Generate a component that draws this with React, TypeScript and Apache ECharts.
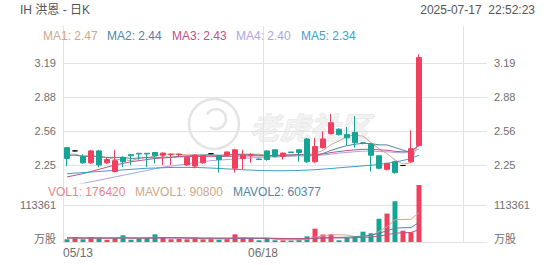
import React, { useEffect, useRef } from 'react';
import * as echarts from 'echarts';

// Trading days shown on the daily chart
const dates = [
  '05/13', '05/14', '05/15', '05/16', '05/19', '05/20', '05/21', '05/22', '05/23', '05/27',
  '05/28', '05/29', '05/30', '06/02', '06/03', '06/04', '06/05', '06/06', '06/09', '06/10',
  '06/11', '06/12', '06/13', '06/16', '06/17', '06/18', '06/20', '06/23', '06/24', '06/25',
  '06/26', '06/27', '06/30', '07/01', '07/02', '07/03', '07/07', '07/08', '07/09', '07/10',
  '07/11', '07/14', '07/15', '07/16', '07/17',
];

// [open, close, low, high]
const ohlc: number[][] = [
  [2.41, 2.31, 2.24, 2.41], [2.38, 2.38, 2.375, 2.385], [2.33, 2.27, 2.26, 2.35], [2.27, 2.38, 2.26, 2.39],
  [2.38, 2.25, 2.23, 2.39], [2.27, 2.30, 2.26, 2.32], [2.19, 2.29, 2.18, 2.39], [2.32, 2.28, 2.23, 2.33],
  [2.345, 2.335, 2.25, 2.35], [2.358, 2.352, 2.30, 2.36], [2.358, 2.352, 2.23, 2.36], [2.365, 2.335, 2.265, 2.37],
  [2.34, 2.36, 2.25, 2.365], [2.345, 2.35, 2.25, 2.355], [2.345, 2.35, 2.33, 2.355], [2.25, 2.32, 2.24, 2.33],
  [2.24, 2.34, 2.22, 2.35], [2.27, 2.335, 2.26, 2.34], [2.355, 2.355, 2.35, 2.36], [2.335, 2.30, 2.18, 2.34],
  [2.34, 2.37, 2.33, 2.375], [2.22, 2.39, 2.18, 2.40], [2.31, 2.34, 2.21, 2.39], [2.34, 2.345, 2.27, 2.36],
  [2.305, 2.30, 2.30, 2.31], [2.38, 2.30, 2.29, 2.385], [2.39, 2.33, 2.32, 2.39], [2.33, 2.36, 2.30, 2.365],
  [2.37, 2.365, 2.36, 2.37], [2.39, 2.365, 2.28, 2.395], [2.49, 2.28, 2.27, 2.50], [2.28, 2.42, 2.27, 2.50],
  [2.41, 2.49, 2.40, 2.56], [2.54, 2.64, 2.53, 2.72], [2.58, 2.53, 2.52, 2.59], [2.53, 2.50, 2.43, 2.60],
  [2.55, 2.455, 2.41, 2.70], [2.455, 2.45, 2.44, 2.46], [2.44, 2.34, 2.19, 2.45], [2.335, 2.22, 2.21, 2.34],
  [2.21, 2.265, 2.20, 2.27], [2.28, 2.18, 2.17, 2.29], [2.245, 2.245, 2.24, 2.25], [2.28, 2.40, 2.27, 2.57],
  [2.43, 3.24, 2.42, 3.27],
];

const volumes = [
  8400, 15500, 8400, 15500, 13300, 7100, 13300, 20700, 7100, 10200,
  12400, 23800, 15500, 8400, 9300, 8400, 13300, 8400, 9300, 7100,
  9300, 23800, 13300, 9300, 5300, 10200, 5300, 5300, 4600, 7100,
  17600, 41200, 23200, 23800, 5300, 14000, 17000, 32000, 27000, 72000,
  88000, 126000, 35000, 30000, 176420,
];

const ma1 = [
  2.35, 2.35, 2.33, 2.34, 2.32, 2.32, 2.30, 2.30, 2.29, 2.31,
  2.32, 2.33, 2.35, 2.35, 2.35, 2.344, 2.344, 2.338, 2.34, 2.33,
  2.34, 2.35, 2.352, 2.35, 2.35, 2.336, 2.324, 2.328, 2.332, 2.344,
  2.34, 2.358, 2.384, 2.438, 2.472, 2.516, 2.524, 2.516, 2.456, 2.40,
  2.354, 2.298, 2.258, 2.27, 2.47,
];
const ma2 = [
  2.34, 2.34, 2.33, 2.33, 2.33, 2.32, 2.32, 2.32, 2.31, 2.315,
  2.319, 2.315, 2.324, 2.321, 2.331, 2.333, 2.338, 2.343, 2.345, 2.34,
  2.342, 2.347, 2.345, 2.345, 2.34, 2.338, 2.337, 2.34, 2.341, 2.347,
  2.338, 2.341, 2.356, 2.385, 2.408, 2.428, 2.441, 2.45, 2.447, 2.436,
  2.435, 2.411, 2.387, 2.363, 2.44,
];
const ma3 = [
  2.14, 2.155, 2.17, 2.19, 2.21, 2.23, 2.25, 2.265, 2.28, 2.29,
  2.30, 2.31, 2.315, 2.32, 2.325, 2.327, 2.329, 2.33, 2.33, 2.328,
  2.33, 2.331, 2.334, 2.333, 2.335, 2.335, 2.337, 2.341, 2.343, 2.343,
  2.34, 2.344, 2.35, 2.365, 2.374, 2.383, 2.389, 2.395, 2.394, 2.39,
  2.386, 2.376, 2.371, 2.374, 2.43,
];
const ma4 = [
  2.05, 2.065, 2.08, 2.095, 2.11, 2.125, 2.14, 2.155, 2.17, 2.185,
  2.20, 2.215, 2.23, 2.24, 2.25, 2.26, 2.27, 2.28, 2.29, 2.295,
  2.30, 2.305, 2.31, 2.315, 2.32, 2.322, 2.325, 2.328, 2.33, 2.334,
  2.333, 2.334, 2.342, 2.35, 2.36, 2.366, 2.372, 2.378, 2.378, 2.374,
  2.372, 2.366, 2.363, 2.364, 2.40,
];
const ma5 = [
  2.17, 2.175, 2.18, 2.185, 2.19, 2.195, 2.20, 2.205, 2.21, 2.215,
  2.22, 2.222, 2.225, 2.227, 2.228, 2.228, 2.227, 2.225, 2.222, 2.218,
  2.214, 2.21, 2.206, 2.203, 2.20, 2.198, 2.197, 2.197, 2.198, 2.20,
  2.203, 2.207, 2.212, 2.218, 2.224, 2.23, 2.236, 2.242, 2.248, 2.255,
  2.265, 2.278, 2.292, 2.31, 2.34,
];

const mavol1 = [
  12000, 12300, 12100, 12500, 12220, 11960, 11520, 13980, 12300, 11680,
  12740, 14840, 13800, 14060, 13880, 13080, 10980, 9560, 9740, 9300,
  9480, 11580, 12560, 12560, 12200, 12380, 8680, 7080, 6140, 6500,
  7980, 15160, 18740, 22580, 22220, 21500, 16660, 18420, 19060, 32400,
  47200, 69000, 69600, 70200, 90800,
];
const mavol2 = [
  12600, 12500, 12400, 12500, 12300, 12200, 12100, 12300, 12000, 11950,
  12350, 13180, 13890, 13180, 12780, 12910, 12910, 11680, 11900, 11590,
  11280, 11280, 11060, 11150, 10750, 10930, 10130, 9820, 9350, 9350,
  10180, 11920, 12910, 14360, 14360, 14740, 15910, 18580, 20820, 27310,
  34350, 42830, 44010, 44630, 60377,
];
const mavol3 = [
  12800, 12700, 12600, 12600, 12500, 12400, 12400, 12500, 12300, 12200,
  12200, 12300, 12400, 12300, 12200, 12100, 12100, 11900, 11900, 11770,
  11815, 12230, 12475, 12165, 11765, 11920, 11520, 10750, 10625, 10470,
  10730, 11600, 11985, 12755, 12555, 12835, 13020, 14200, 15085, 18330,
  22265, 27375, 28460, 29495, 38051,
];

const priceTicks = [2.25, 2.5633, 2.8767, 3.19];
const volTicks = [0, 113361];
const labelDays = [0, 25];
const gridDays = [0, 25, 50];
const SLOTS = 53;

const UP = '#f1405f';
const DOWN = '#16a495';
const MA_COLORS = ['#cda78c', '#54849f', '#c1508a', '#aaa5e4', '#3f9fcb'];
const VOL_COLORS = ['#ea848c', '#cda78c', '#54849f', '#c1508a'];
const GRID = '#e2e2e2';
const LABEL = '#6e6e6e';
const FONT = "'Liberation Sans', Arial, 'Noto Sans CJK SC', sans-serif";

const last = (a: number[]) => a[a.length - 1];

export default function App() {
  const ref = useRef<HTMLDivElement>(null);

  useEffect(() => {
    document.body.style.margin = '0';
    if (!ref.current) return;
    const chart = echarts.init(ref.current, undefined, { renderer: 'svg' });

    const cats = dates.concat(Array(SLOTS - dates.length).fill(''));
    const volData = volumes.map((v, i) => {
      const [o, c] = ohlc[i];
      const prevClose = i > 0 ? ohlc[i - 1][1] : o;
      const up = c > o || (c === o && c >= prevClose);
      return { value: v, itemStyle: { color: up ? UP : DOWN } };
    });

    const maLine = (name: string, data: number[], color: string) => ({
      name, type: 'line', data, xAxisIndex: 0, yAxisIndex: 0, symbol: 'none',
      lineStyle: { width: 1, color }, itemStyle: { color }, z: 3,
    });
    const volLine = (name: string, data: number[], color: string) => ({
      name, type: 'line', data, xAxisIndex: 1, yAxisIndex: 2, symbol: 'none',
      lineStyle: { width: 1, color }, itemStyle: { color }, z: 3,
    });

    const txt = (text: string, x: number, y: number, fill: string, align = 'left', size = 12) => ({
      type: 'text', x, y, z: 20,
      style: { text, fill, font: `${size}px ${FONT}`, align, verticalAlign: 'middle' },
    });

    const maLegend = [
      [`MA1: ${last(ma1).toFixed(2)}`, 43], [`MA2: ${last(ma2).toFixed(2)}`, 107],
      [`MA3: ${last(ma3).toFixed(2)}`, 172], [`MA4: ${last(ma4).toFixed(2)}`, 236],
      [`MA5: ${last(ma5).toFixed(2)}`, 301],
    ].map(([t, x], i) => txt(t as string, x as number, 36, MA_COLORS[i]));
    const volLegend = [
      [`VOL1: ${last(volumes)}`, 48], [`MAVOL1: ${last(mavol1)}`, 135], [`MAVOL2: ${last(mavol2)}`, 233],
    ].map(([t, x], i) => txt(t as string, x as number, 192, VOL_COLORS[i]));

    const priceAxis = (position: 'left' | 'right', split: boolean) => ({
      type: 'value', gridIndex: 0, position, min: 2.0841, max: 3.531, scale: true,
      axisLine: { show: false }, axisTick: { show: false, customValues: priceTicks },
      splitLine: { show: split, lineStyle: { color: GRID, width: 1 } },
      axisLabel: {
        customValues: priceTicks, color: LABEL, fontSize: 11, fontFamily: FONT, margin: 7,
        formatter: (v: number) => v.toFixed(2),
      },
    });
    const volAxis = (position: 'left' | 'right', split: boolean) => ({
      type: 'value', gridIndex: 1, position, min: 0, max: last(volumes),
      axisLine: { show: false }, axisTick: { show: false, customValues: [volTicks[1]] },
      splitLine: { show: split, lineStyle: { color: GRID, width: 1 } },
      axisLabel: {
        customValues: volTicks, color: LABEL, fontSize: 11, fontFamily: FONT, margin: 7,
        formatter: (v: number) => (v === 0 ? '{u|万股}' : String(v)),
        rich: { u: { color: LABEL, fontSize: 11, fontFamily: FONT, padding: [0, 0, 6, 0] } },
      },
    });

    chart.setOption({
      animation: false,
      textStyle: { fontFamily: FONT },
      grid: [
        { left: 63, right: 65, top: 26, bottom: 82 },
        { left: 63, right: 65, top: 185, bottom: 23 },
        { left: 63, right: 65, top: 26, bottom: 23 },
      ],
      xAxis: [
        { type: 'category', gridIndex: 0, data: cats, boundaryGap: true, show: false },
        { type: 'category', gridIndex: 1, data: cats, boundaryGap: true, show: false },
        {
          type: 'value', gridIndex: 2, min: 0, max: SLOTS, position: 'bottom',
          axisLine: { show: true, lineStyle: { color: GRID } },
          axisTick: { show: false, customValues: gridDays },
          splitLine: { show: true, lineStyle: { color: GRID, width: 1 } },
          axisLabel: {
            customValues: labelDays, color: LABEL, fontSize: 12, fontFamily: FONT, margin: 5,
            alignMinLabel: 'left', formatter: (v: number) => dates[v] ?? '',
          },
        },
      ],
      yAxis: [
        priceAxis('left', true),
        priceAxis('right', false),
        volAxis('left', true),
        volAxis('right', false),
        {
          type: 'value', gridIndex: 2, position: 'right', min: 0, max: 1,
          axisLine: { show: true, lineStyle: { color: GRID } },
          axisTick: { show: false }, axisLabel: { show: false }, splitLine: { show: false },
        },
      ],
      graphic: [
        {
          type: 'group', z: 0,
          children: [
            { type: 'circle', shape: { cx: 214, cy: 124, r: 25 }, style: { fill: 'none', stroke: '#e4e4e4', lineWidth: 2.5 } },
            { type: 'arc', shape: { cx: 216, cy: 119, r: 10, startAngle: 3.6, endAngle: 2.2 }, style: { fill: 'none', stroke: '#e4e4e4', lineWidth: 2.5 } },
            {
              type: 'text', x: 250, y: 126,
              style: { text: '老虎社区', font: "italic bold 30px 'Noto Sans CJK SC', sans-serif", fill: '#f2f2f2', stroke: '#e2e2e2', lineWidth: 1, verticalAlign: 'middle' },
            },
          ],
        },
        txt('IH 洪恩 - 日K', 20, 10, '#555'),
        txt('2025-07-17  22:52:23', 535, 10, '#555', 'right'),
        ...maLegend,
        ...volLegend,
      ],
      series: [
        {
          name: 'K', type: 'candlestick', xAxisIndex: 0, yAxisIndex: 0, data: ohlc, barWidth: 5,
          itemStyle: { color: UP, color0: DOWN, borderColor: UP, borderColor0: DOWN, borderColorDoji: '#111', borderWidth: 1 },
          z: 4,
        },
        maLine('MA1', ma1, MA_COLORS[0]),
        maLine('MA2', ma2, MA_COLORS[1]),
        maLine('MA3', ma3, MA_COLORS[2]),
        maLine('MA4', ma4, MA_COLORS[3]),
        maLine('MA5', ma5, MA_COLORS[4]),
        { name: 'VOL', type: 'bar', xAxisIndex: 1, yAxisIndex: 2, data: volData, barWidth: 5 },
        volLine('MAVOL1', mavol1, VOL_COLORS[1]),
        volLine('MAVOL2', mavol2, VOL_COLORS[2]),
        volLine('MAVOL3', mavol3, VOL_COLORS[3]),
      ],
    });

    return () => chart.dispose();
  }, []);

  return <div ref={ref} style={{ width: 552, height: 265 }} />;
}
